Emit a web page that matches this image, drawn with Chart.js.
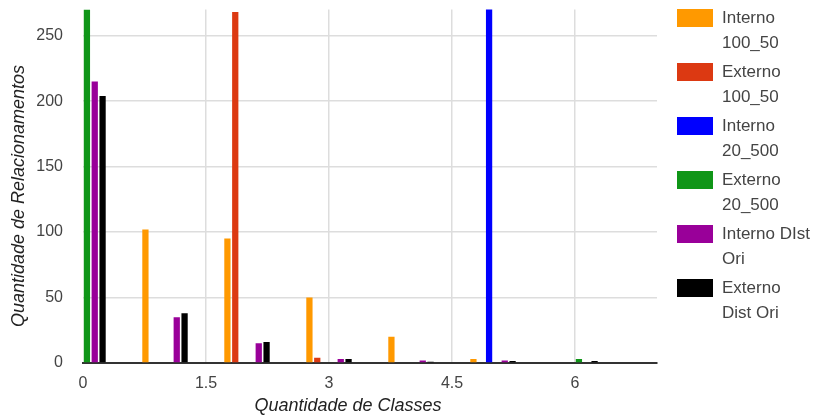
<!DOCTYPE html>
<html>
<head>
<meta charset="utf-8">
<script src="https://cdn.jsdelivr.net/npm/chart.js@4"></script>
<style>
  body { margin: 0; background: #fff; }
  #wrap { position: relative; width: 818px; height: 415px; }
  #legend { position: absolute; left: 677px; top: 9px; font-family: "Liberation Sans", Arial, sans-serif; font-size: 17px; color: #444; }
  .item { position: relative; height: 54px; }
  .box { position: absolute; left: 0; top: 0; width: 36px; height: 18px; }
  .txt { position: absolute; left: 45px; top: -4px; width: 130px; line-height: 25px; white-space: pre-line; }
</style>
</head>
<body>
<div id="wrap">
  <canvas id="chart" width="818" height="415"></canvas>
  <div id="legend"></div>
</div>
<script>
document.addEventListener("DOMContentLoaded", () => {
  const classes = [0, 1, 2, 3, 4, 5, 6];
  const seriesNames = ["Interno\n100_50", "Externo\n100_50", "Interno\n20_500", "Externo\n20_500", "Interno DIst\nOri", "Externo\nDist Ori"];
  const seriesColors = ["#ff9900", "#dc3912", "#0000ff", "#109618", "#990099", "#000000"];

  const interno100 = [0, 102, 95, 50, 20, 3, 0.5];
  const externo100 = [0, 0, 268, 4, 0, 0, 0];
  const interno20 = [0, 0.5, 0.5, 0.5, 0.5, 300, 0.5];
  const externo20 = [270, 0.5, 0, 0, 0, 0, 3];
  const internoDist = [215, 35, 15, 3, 2, 2, 0];
  const externoDist = [204, 38, 16, 3, 1, 1.5, 1.5];

  const xTicks = [0, 1.5, 3, 4.5, 6];
  const yTicks = [0, 50, 100, 150, 200, 250];

  const allSeries = [interno100, externo100, interno20, externo20, internoDist, externoDist];
  const font = "'Liberation Sans', Arial, sans-serif";

  const datasets = allSeries.map((values, i) => ({
    label: seriesNames[i].replace("\n", " "),
    data: values,
    backgroundColor: seriesColors[i],
    borderWidth: 0,
    categoryPercentage: 0.573,
    barPercentage: 0.8
  }));

  // axis titles are not centred on the plot in the original, so draw them here
  const axisTitles = {
    id: "axisTitles",
    afterDraw(chart) {
      const ctx = chart.ctx;
      ctx.save();
      ctx.font = "italic 18px " + font;
      ctx.fillStyle = "#222";
      ctx.textAlign = "center";
      ctx.textBaseline = "middle";
      ctx.fillText("Quantidade de Classes", 348, 406);
      ctx.translate(19, 196);
      ctx.rotate(-Math.PI / 2);
      ctx.fillText("Quantidade de Relacionamentos", 0, 0);
      ctx.restore();
    }
  };

  new Chart(document.getElementById("chart").getContext("2d"), {
    type: "bar",
    data: { labels: classes, datasets },
    plugins: [axisTitles],
    options: {
      responsive: false,
      animation: false,
      layout: { padding: { left: 0, right: 161, top: 9.5, bottom: 0 } },
      plugins: { legend: { display: false }, tooltip: { enabled: false } },
      scales: {
        x: {
          type: "linear",
          min: 0,
          max: 7,
          offset: false,
          afterFit: s => { s.height = 52; s.paddingLeft = 0; s.paddingRight = 0; },
          afterBuildTicks: s => { s.ticks = xTicks.map(v => ({ value: v })); },
          ticks: { color: "#444", padding: 11, font: { family: font, size: 16 }, maxRotation: 0 },
          grid: {
            offset: false,
            drawTicks: false,
            color: c => c.tick && c.tick.value === 0 ? "rgba(0,0,0,0)" : "#dddddd",
            lineWidth: 1.5
          },
          border: { display: true, color: "#333", width: 2 }
        },
        y: {
          min: 0,
          max: 270,
          afterFit: s => { s.width = 83; s.paddingTop = 0; s.paddingBottom = 0; },
          afterBuildTicks: s => { s.ticks = yTicks.map(v => ({ value: v })); },
          ticks: { color: "#444", padding: 20, font: { family: font, size: 16 } },
          grid: {
            drawTicks: false,
            color: c => c.tick && c.tick.value === 0 ? "rgba(0,0,0,0)" : "#dddddd",
            lineWidth: 1.5
          },
          border: { display: false }
        }
      }
    }
  });

  const legend = document.getElementById("legend");
  seriesNames.forEach((name, i) => {
    const item = document.createElement("div");
    item.className = "item";
    item.innerHTML = `<div class="box" style="background:${seriesColors[i]}"></div><div class="txt">${name}</div>`;
    legend.appendChild(item);
  });
});
</script>
</body>
</html>
